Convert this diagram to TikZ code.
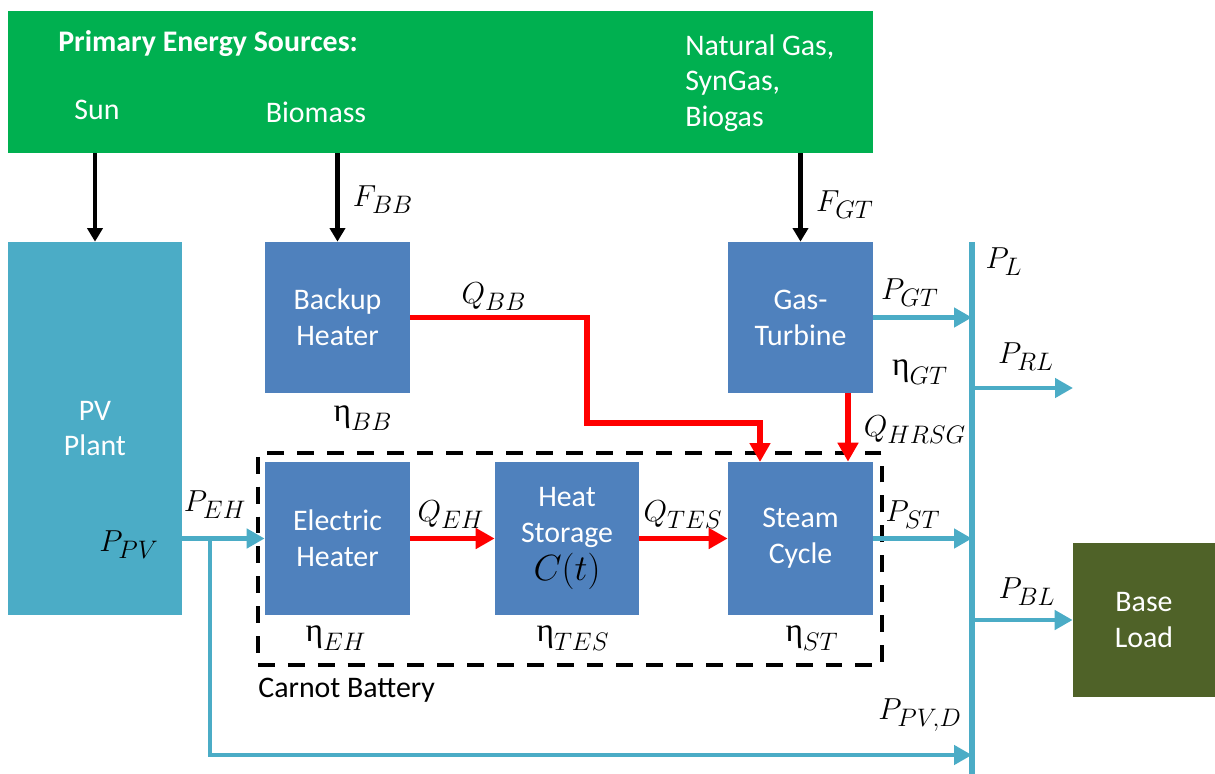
\documentclass[tikz,border=0pt]{standalone}
\usepackage{fontspec}
\setmainfont{Carlito}
\newfontfamily\grk{Liberation Serif}
\usetikzlibrary{arrows.meta,calc}
\definecolor{srcgreen}{HTML}{00B050}
\definecolor{boxblue}{HTML}{4F81BD}
\definecolor{pvcyan}{HTML}{4BACC6}
\definecolor{loadolive}{HTML}{4F6228}
\begin{document}
\begin{tikzpicture}[x=0.02cm,y=-0.02cm,
  txt/.style={font=\fontsize{17}{20.4}\selectfont, text=white, align=center, inner sep=0pt},
  blk/.style={fill=boxblue, draw=none, minimum width=2.9cm, minimum height=3.02cm, inner sep=0pt, txt},
  lbl/.style={font=\fontsize{19}{19}\selectfont, inner sep=0pt},
  redarrow/.style={draw=red, line width=3.4pt, -{Triangle[length=0.38cm,width=0.4cm]}},
  cyanarrow/.style={draw=pvcyan, line width=2.8pt, -{Triangle[length=0.36cm,width=0.38cm]}},
  blackarrow/.style={draw=black, line width=2.6pt, -{Triangle[length=0.27cm,width=0.3cm]}},
  busline/.style={draw=pvcyan, line width=3pt},
  cbox/.style={draw=black, line width=2.4pt, dash pattern=on 9.6pt off 7.4pt, inner sep=0pt},
]
\useasboundingbox (0,0) rectangle (1215,774);

% primary energy sources
\node[fill=srcgreen, minimum width=17.3cm, minimum height=2.84cm, inner sep=0pt] (src) at (440.5,82) {};
\node[txt, font=\bfseries\fontsize{17}{20.4}\selectfont, anchor=west] (pes) at (58,44) {Primary Energy Sources:};
\node[txt] (sun) at (97,110) {Sun};
\node[txt] (bio) at (316,112) {Biomass};
\node[txt, align=left, anchor=north west] (gas) at (685,34) {Natural Gas,\\SynGas,\\Biogas};

% blocks
\node[fill=pvcyan, minimum width=3.48cm, minimum height=7.46cm, txt] (pv) at (95,428.5) {PV\\Plant};
\node[blk] (bh) at (337.5,317.5) {Backup\\Heater};
\node[blk] (gt) at (800.5,317.5) {Gas-\\Turbine};
\node[blk, minimum height=3.06cm] (eh) at (337.5,538.5) {Electric\\Heater};
\node[blk, minimum height=3.06cm, minimum width=2.88cm] (hs) at (567,538.5) {Heat\\Storage\\[1pt]{\fontsize{22}{22}\selectfont\color{black}$C(t)$}};
\node[blk, minimum height=3.06cm] (sc) at (800.5,538.5) {Steam\\Cycle};
\node[fill=loadolive, minimum width=2.84cm, minimum height=3.08cm, txt] (bl) at (1144,620) {Base\\Load};

% Carnot battery
\node[cbox, minimum width=12.48cm, minimum height=4.24cm] (cb) at (570,559) {};
\node[txt, text=black, anchor=west] (cbl) at (258,690) {Carnot Battery};

% bus
\coordinate (busT) at (972,242);
\coordinate (busB) at (972,774);
\draw[busline] (busT) -- (busB);

% fuel arrows
\draw[blackarrow] (pv.north |- src.south) -- (pv.north);
\draw[blackarrow] (bh.north |- src.south) -- (bh.north);
\draw[blackarrow] (gt.north |- src.south) -- (gt.north);

% electric flows
\draw[cyanarrow] (gt.east) -- (gt.east -| busT);
\draw[cyanarrow] (sc.east) -- (sc.east -| busT);
\coordinate (rl) at (1073,388);
\draw[cyanarrow] (rl -| busT) -- (rl);
\draw[cyanarrow] (bl.west -| busT) -- (bl.west);
\draw[cyanarrow] (eh.west -| pv.east) -- (eh.west);
\coordinate (jn) at (210,538.5);
\coordinate (pvd) at (972,755);
\draw[cyanarrow] (jn) |- (pvd);

% heat flows
\draw[redarrow] (eh.east) -- (hs.west);
\draw[redarrow] (hs.east) -- (sc.west);
\coordinate (qb1) at (587,423);
\coordinate (qb2) at (760,462);
\draw[redarrow] (bh.east) -| (qb1) -| (qb2);
\coordinate (hrx) at (848,0);
\draw[redarrow] (gt.south -| hrx) -- (sc.north -| hrx);

% labels
\node[lbl] (fbb) at (383,200) {$F_{BB}$};
\node[lbl] (fgt) at (845,205) {$F_{GT}$};
\node[lbl] (ppv) at (129,545) {$P_{PV}$};
\node[lbl] (peh) at (215,505) {$P_{EH}$};
\node[lbl] (qbb) at (494,297) {$Q_{BB}$};
\node[lbl] (ebb) at (363,418) {$\mbox{\grk η}_{BB}$};
\node[lbl] (pgt) at (910,293) {$P_{GT}$};
\node[lbl] (egt) at (920,372) {$\mbox{\grk η}_{GT}$};
\node[lbl] (pl) at (1004,262) {$P_{L}$};
\node[lbl] (prl) at (1026,357) {$P_{RL}$};
\node[lbl] (qhr) at (915,430) {$Q_{HRSG}$};
\node[lbl] (pst) at (913,515) {$P_{ST}$};
\node[lbl] (pbl) at (1027,592) {$P_{BL}$};
\node[lbl] (qeh) at (451,515) {$Q_{EH}$};
\node[lbl] (qtes) at (683,515) {$Q_{TES}$};
\node[lbl] (eeh) at (336,638) {$\mbox{\grk η}_{EH}$};
\node[lbl] (etes) at (573,638) {$\mbox{\grk η}_{TES}$};
\node[lbl] (est) at (812,638) {$\mbox{\grk η}_{ST}$};
\node[lbl] (ppvd) at (920,715) {$P_{PV,D}$};
\end{tikzpicture}
\end{document}
